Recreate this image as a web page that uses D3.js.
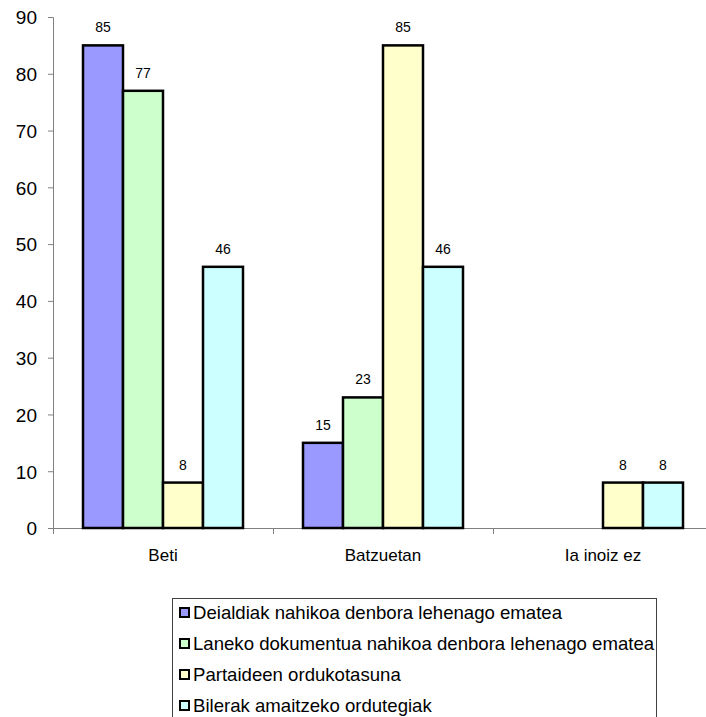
<!DOCTYPE html>
<html><head><meta charset="utf-8">
<script src="https://cdn.jsdelivr.net/npm/d3@7"></script>
<style>body{margin:0;background:#fff}svg{display:block}</style>
</head><body>
<script>
const categories = ["Beti", "Batzuetan", "Ia inoiz ez"];
const seriesNames = [
  "Deialdiak nahikoa denbora lehenago ematea",
  "Laneko dokumentua nahikoa denbora lehenago ematea",
  "Partaideen ordukotasuna",
  "Bilerak amaitzeko ordutegiak"
];
const series1 = [85, 15, null];
const series2 = [77, 23, null];
const series3 = [8, 85, 8];
const series4 = [46, 46, 8];
const colors = ["#9999FF", "#CCFFCC", "#FFFFCC", "#CCFFFF"];
const yTicks = [0, 10, 20, 30, 40, 50, 60, 70, 80, 90];

const W = 706, H = 717;
const svg = d3.select("body").append("svg").attr("width", W).attr("height", H);
const font = "Liberation Sans, Arial, sans-serif";

const x0 = d3.scaleBand().domain(categories).range([53, 713]).paddingInner(0).paddingOuter(0);
const x1 = d3.scaleBand().domain(d3.range(4)).range([30, 190]);
const y = d3.scaleLinear().domain([0, 90]).range([528, 17]);

const allSeries = [series1, series2, series3, series4];

// axes
const yAxis = svg.append("g").attr("transform", "translate(53,0)")
  .call(d3.axisLeft(y).tickValues(yTicks).tickSize(5).tickPadding(11));
yAxis.select(".domain").attr("stroke", "#808080");
yAxis.selectAll(".tick line").attr("stroke", "#808080");
yAxis.selectAll("text").attr("font-family", font).attr("font-size", 19).attr("fill", "#000").attr("dy", "0.36em");

const xAxis = svg.append("g").attr("transform", "translate(0,528)")
  .call(d3.axisBottom(x0).tickSize(0).tickPadding(21).tickSizeOuter(0));
xAxis.select(".domain").remove();
svg.append("line").attr("x1", 53).attr("x2", W).attr("y1", 528.5).attr("y2", 528.5).attr("stroke", "#808080");
xAxis.selectAll("text").attr("font-family", font).attr("font-size", 17).attr("fill", "#000");
// category separator ticks
const seps = categories.map((c) => x0(c));
svg.selectAll(".sep").data(seps).enter().append("line")
  .attr("x1", d => d + 0.5).attr("x2", d => d + 0.5).attr("y1", 528).attr("y2", 534).attr("stroke", "#808080");

// bars
allSeries.forEach((s, si) => {
  const g = svg.append("g");
  categories.forEach((c, ci) => {
    const v = s[ci];
    if (v == null) return;
    const bx = x0(c) + x1(si);
    g.append("rect").attr("x", bx).attr("y", y(v)).attr("width", x1.bandwidth()).attr("height", y(0) - y(v))
      .attr("fill", colors[si]).attr("stroke", "#000").attr("stroke-width", 2.5);
    g.append("text").attr("x", bx + x1.bandwidth() / 2).attr("y", y(v) - 13)
      .attr("text-anchor", "middle").attr("font-family", font).attr("font-size", 14).text(v);
  });
});

// legend
const lg = svg.append("g");
lg.append("rect").attr("x", 172.5).attr("y", 598.5).attr("width", 484).attr("height", 140)
  .attr("fill", "#fff").attr("stroke", "#404040").attr("stroke-width", 1);
seriesNames.forEach((n, i) => {
  const base = 619 + i * 31;
  lg.append("rect").attr("x", 180).attr("y", base - 11).attr("width", 9).attr("height", 9)
    .attr("fill", colors[i]).attr("stroke", "#000").attr("stroke-width", 2);
  lg.append("text").attr("x", 193).attr("y", base).attr("font-family", font).attr("font-size", 18.6).text(n);
});
</script>
</body></html>
